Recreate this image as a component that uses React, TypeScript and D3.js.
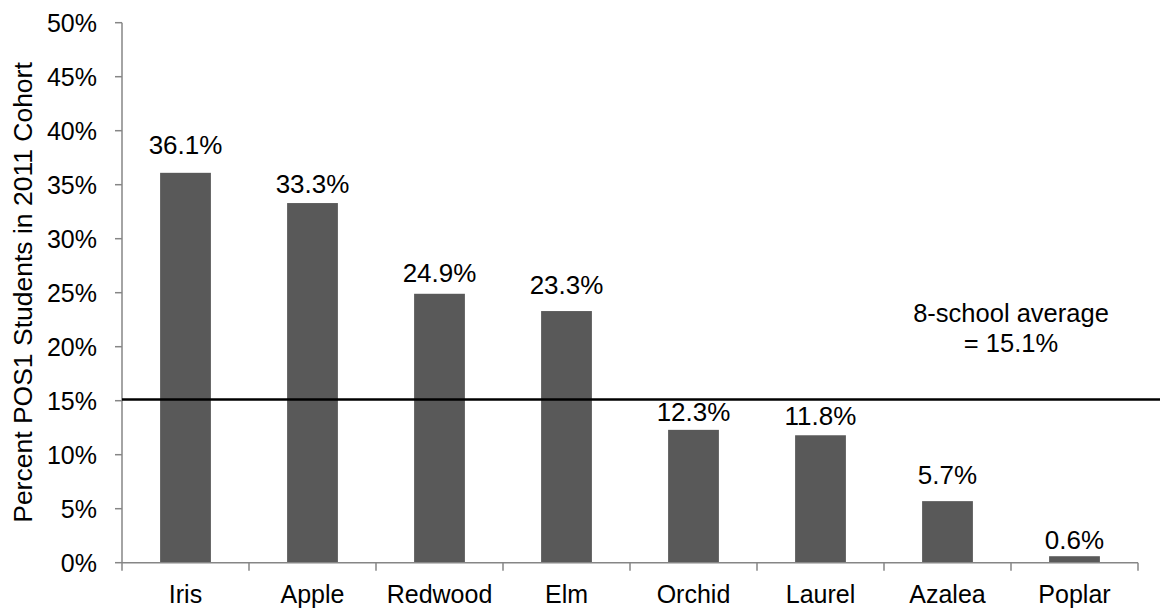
import React from "react";
import * as d3 from "d3";

// Share of POS1 students in the 2011 cohort, by school
const schools = ["Iris", "Apple", "Redwood", "Elm", "Orchid", "Laurel", "Azalea", "Poplar"];
const percents = [36.1, 33.3, 24.9, 23.3, 12.3, 11.8, 5.7, 0.6];
const yTicks = [0, 5, 10, 15, 20, 25, 30, 35, 40, 45, 50];
const averagePercent = 15.1;
const averageLabel = ["8-school average", "= 15.1%"];
const yTitle = "Percent POS1 Students in 2011 Cohort";

const WIDTH = 1160;
const HEIGHT = 609;
const FONT = "'Liberation Sans', Arial, sans-serif";
const BAR = "#595959";
const AXIS = "#868686";

// Space between each bar top and the baseline of its value label
const LABEL_GAP = [19, 10, 12, 17, 9, 10, 17, 7];

export default function App() {
  const x0 = 122;
  const x1 = 1138;
  const y = d3.scaleLinear().domain([0, 50]).range([562.7, 22.7]);
  const x = d3
    .scaleBand<string>()
    .domain(schools)
    .range([x0, x1])
    .paddingInner(0.6)
    .paddingOuter(0.3);
  const step = x.step();
  const base = y(0);

  return (
    <div style={{ position: "fixed", left: 0, top: 0 }}>
      <svg width={WIDTH} height={HEIGHT} style={{ display: "block", background: "#fff" }}>
        <g fontFamily={FONT} fill="#000">
          {/* bars */}
          {schools.map((s, i) => (
            <rect
              key={s}
              x={x(s)}
              y={y(percents[i])}
              width={x.bandwidth()}
              height={base - y(percents[i])}
              fill={BAR}
            />
          ))}

          {/* value labels */}
          {schools.map((s, i) => (
            <text
              key={s}
              x={(x(s) as number) + x.bandwidth() / 2}
              y={y(percents[i]) - LABEL_GAP[i]}
              textAnchor="middle"
              fontSize={26}
            >
              {percents[i].toFixed(1)}%
            </text>
          ))}

          {/* y axis */}
          <line x1={x0} x2={x0} y1={y(50)} y2={base} stroke={AXIS} strokeWidth={1.5} />
          {yTicks.map((t) => (
            <g key={t}>
              <line x1={x0 - 7} x2={x0} y1={y(t)} y2={y(t)} stroke={AXIS} strokeWidth={1.5} />
              <text x={97} y={y(t)} dy="0.36em" textAnchor="end" fontSize={25}>
                {t}%
              </text>
            </g>
          ))}

          {/* x axis */}
          <line x1={x0} x2={x1} y1={base} y2={base} stroke={AXIS} strokeWidth={1.5} />
          {d3.range(schools.length + 1).map((k) => (
            <line
              key={k}
              x1={x0 + k * step}
              x2={x0 + k * step}
              y1={base}
              y2={base + 8}
              stroke={AXIS}
              strokeWidth={1.5}
            />
          ))}
          {schools.map((s) => (
            <text
              key={s}
              x={(x(s) as number) + x.bandwidth() / 2}
              y={603}
              textAnchor="middle"
              fontSize={25}
            >
              {s}
            </text>
          ))}

          {/* y axis title */}
          <text
            transform={`translate(32, ${(62 + 523) / 2}) rotate(-90)`}
            textAnchor="middle"
            fontSize={26.5}
          >
            {yTitle}
          </text>

          {/* average reference line */}
          <line
            x1={x0}
            x2={WIDTH}
            y1={y(averagePercent)}
            y2={y(averagePercent)}
            stroke="#000"
            strokeWidth={2.5}
          />
          {averageLabel.map((line, i) => (
            <text
              key={line}
              x={x0 + 7 * step}
              y={322 + i * 30}
              textAnchor="middle"
              fontSize={25.5}
            >
              {line}
            </text>
          ))}
        </g>
      </svg>
    </div>
  );
}
